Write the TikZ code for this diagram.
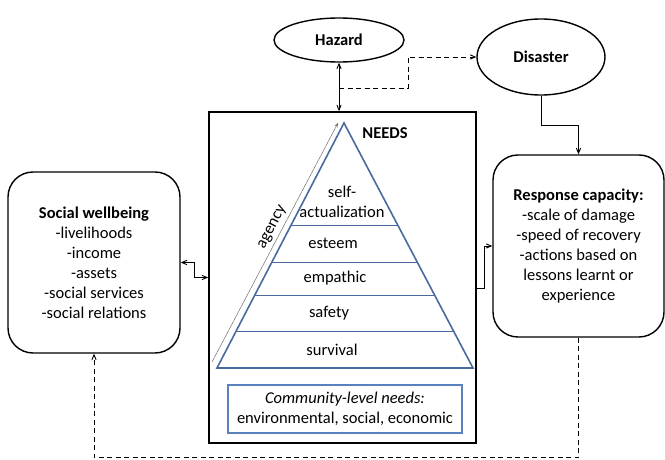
\documentclass[tikz,border=0pt]{standalone}
\usepackage{fontspec}
\setmainfont{Carlito}
\usepackage{tikz}
\usetikzlibrary{arrows}
\usetikzlibrary{calc}
\usetikzlibrary{shapes.geometric}
\definecolor{pyramidblue}{HTML}{4A6A9E}
\definecolor{boxblue}{HTML}{5A80BE}
\newcommand{\diagfont}{\fontsize{16.5}{20}\selectfont}
\tikzset{
  event/.style={ellipse, draw, line width=1.4pt, font=\diagfont\bfseries,
    inner sep=0pt},
  roundbox/.style={draw, line width=1.4pt, rounded corners=25pt,
    align=center, font=\diagfont, inner sep=0pt},
  level/.style={font=\diagfont, align=center, inner sep=0pt},
  link/.style={line width=0.9pt},
  feedback/.style={line width=0.9pt, dash pattern=on 5pt off 3.5pt}
}

\begin{document}
\begin{tikzpicture}[x=1pt, y=1pt,
      ->,>=angle 45,
      semithick]

    \useasboundingbox (0,0) rectangle (665,459);

    \node[event, minimum width=130, minimum height=44]
      (Hazard) at (339,419) {Hazard};
    \node[event, minimum width=128, minimum height=76]
      (Disaster) at (541,402) {Disaster};
    \node[draw, line width=1.7pt, minimum width=267, minimum height=331]
      (Needs) at (342.5,181.5) {};
    \node[roundbox, minimum width=172, minimum height=181]
      (SocialWellbeing) at (94,196.5)
      {\textbf{Social wellbeing}\\-livelihoods\\-income\\-assets\\
       -social services\\-social relations};
    \node[roundbox, minimum width=171, minimum height=182]
      (ResponseCapacity) at (578.5,213)
      {\textbf{Response capacity:}\\-scale of damage\\-speed of recovery\\
       -actions based on\\lessons learnt or\\experience};
    \node[draw=boxblue, line width=1.4pt, minimum width=234, minimum height=48,
      align=center, font=\diagfont, inner sep=0pt]
      (CommunityNeeds) at (345,50)
      {\textit{Community-level needs:}\\environmental, social, economic};

    % pyramid of needs
    \coordinate (Apex) at (344,336);
    \coordinate (BaseLeft) at (217,91);
    \coordinate (BaseRight) at (473,91);
    \draw[-, pyramidblue, line width=1.6pt]
      (Apex) -- (BaseRight) -- (BaseLeft) -- cycle;
    \foreach \t in {0.151,0.298,0.4327,0.5837}
      \draw[-, pyramidblue, line width=0.5pt]
        ($(BaseLeft)!\t!(Apex)$) -- ($(BaseRight)!\t!(Apex)$);

    \node[level] (Survival) at (332,109.5) {survival};
    \node[level] (Safety) at (329,146) {safety};
    \node[level] (Empathic) at (335,180.5) {empathic};
    \node[level] (Esteem) at (333,215.5) {esteem};
    \node[level] (SelfActualization) at (342,257) {self-\\actualization};
    \node[level, font=\diagfont\bfseries] (NeedsTitle) at (385,326) {NEEDS};

    \coordinate (AgencyStart) at (212,97);
    \coordinate (AgencyEnd) at (338,336);
    \draw[gray!70!black, line width=0.4pt]
      (AgencyStart) -- node[pos=0.545, sloped, above, font=\diagfont, text=black]
      {agency} (AgencyEnd);

    % connectors
    \coordinate (Split) at (339,371);
    \path[link]
      (Hazard.south) edge[<->] (Needs.north -| Hazard.south);
    \draw[feedback]
      (Split) -- ++(69,0) |- (Disaster.west);
    \draw[link]
      (Disaster.south) -- ++(0,-30) -| (ResponseCapacity.north);
    \draw[link, <->]
      (SocialWellbeing.east) -- ++(14,0) |- (Needs.west);
    \draw[link]
      ([yshift=-10.5pt]Needs.east) -- ++(8,0) |- (ResponseCapacity.west);
    \draw[feedback]
      (ResponseCapacity.south) -- ++(0,-120) -| (SocialWellbeing.south);

  \end{tikzpicture}
\end{document}
